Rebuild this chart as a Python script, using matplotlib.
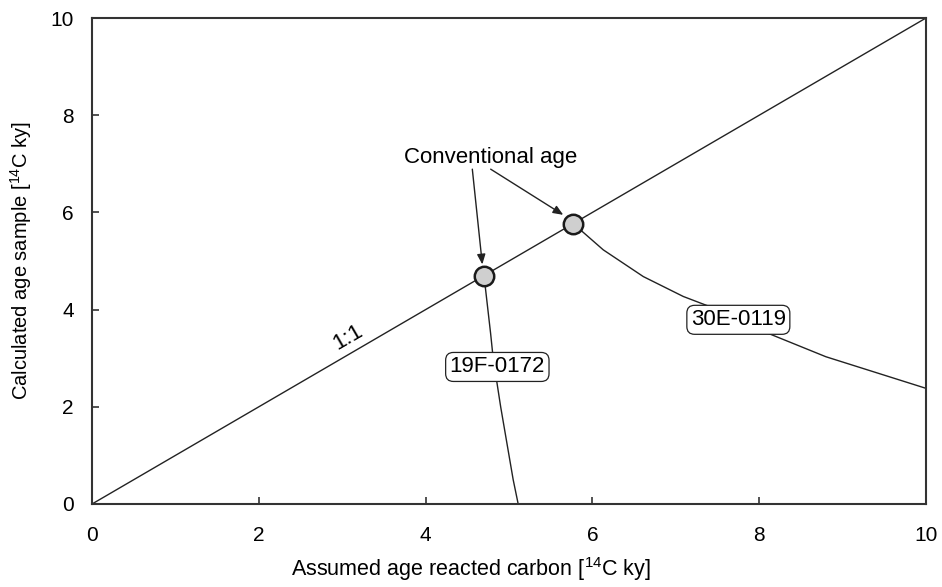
import matplotlib.pyplot as plt
import numpy as np

plt.rcParams['font.family'] = ['Liberation Sans', 'DejaVu Sans']
plt.rcParams['mathtext.fontset'] = 'custom'
plt.rcParams['mathtext.rm'] = 'Liberation Sans'
plt.rcParams['mathtext.it'] = 'Liberation Sans'

# calculated sample age vs. assumed age of the reacted carbon (ky)
x_1to1 = [0, 10]
y_1to1 = [0, 10]

x_19f = [4.70, 4.72, 4.78, 4.81, 4.90, 5.00, 5.05, 5.11]
y_19f = [4.70, 4.40, 3.50, 3.00, 2.00, 1.00, 0.50, 0.00]

x_30e = [5.77, 6.13, 6.61, 7.09, 7.41, 8.11, 8.80, 10.00]
y_30e = [5.77, 5.23, 4.68, 4.27, 4.06, 3.51, 3.03, 2.38]

# conventional ages (intersection with 1:1)
conv_x = [4.70, 5.77]
conv_y = [4.70, 5.77]

ticks = [0, 2, 4, 6, 8, 10]

fig = plt.figure(figsize=(9.42, 5.87), dpi=100)
ax = fig.add_axes([0.0977, 0.1414, 0.8853, 0.8279])

ink = '#222222'
ax.plot(x_1to1, y_1to1, color=ink, lw=1.0, zorder=2)
ax.plot(x_19f, y_19f, color=ink, lw=1.0, zorder=2)
ax.plot(x_30e, y_30e, color=ink, lw=1.0, zorder=2)
ax.plot(conv_x, conv_y, 'o', ms=14, mfc='#cfcfcf', mec='#1a1a1a', mew=1.8,
        zorder=5, clip_on=False)

box = dict(boxstyle='round,pad=0.18,rounding_size=0.35', fc='white',
           ec=ink, lw=0.9)
ax.text(4.86, 2.82, '19F-0172', ha='center', va='center', fontsize=16,
        bbox=box, zorder=4)
ax.text(7.75, 3.79, '30E-0119', ha='center', va='center', fontsize=16,
        bbox=box, zorder=4)

ax.text(3.07, 3.42, '1:1', ha='center', va='center', fontsize=16,
        rotation=30.2, rotation_mode='anchor')

ax.text(4.78, 7.12, 'Conventional age', ha='center', va='center',
        fontsize=16)
arrow = dict(arrowstyle='-|>,head_length=0.6,head_width=0.25', color=ink,
             lw=1.0, shrinkA=0, shrinkB=0)
ax.annotate('', xy=(4.68, 4.93), xytext=(4.56, 6.89), arrowprops=arrow)
ax.annotate('', xy=(5.65, 5.95), xytext=(4.78, 6.89), arrowprops=arrow)

ax.set_xlim(0, 10)
ax.set_ylim(0, 10)
ax.set_xticks(ticks)
ax.set_yticks(ticks)
ax.tick_params(direction='in', length=5, width=1.2, color='#333333',
               labelsize=15)
ax.tick_params(axis='x', pad=16)
ax.tick_params(axis='y', pad=13)
for s in ax.spines.values():
    s.set_linewidth(1.5)
    s.set_color('#333333')

ax.set_xlabel(r'Assumed age reacted carbon [$^{14}$C ky]', fontsize=15.5)
ax.xaxis.set_label_coords(0.454, -0.105)
ax.set_ylabel(r'Calculated age sample [$^{14}$C ky]', fontsize=14.5,
              labelpad=12)

fig.savefig('out.png', dpi=100)
